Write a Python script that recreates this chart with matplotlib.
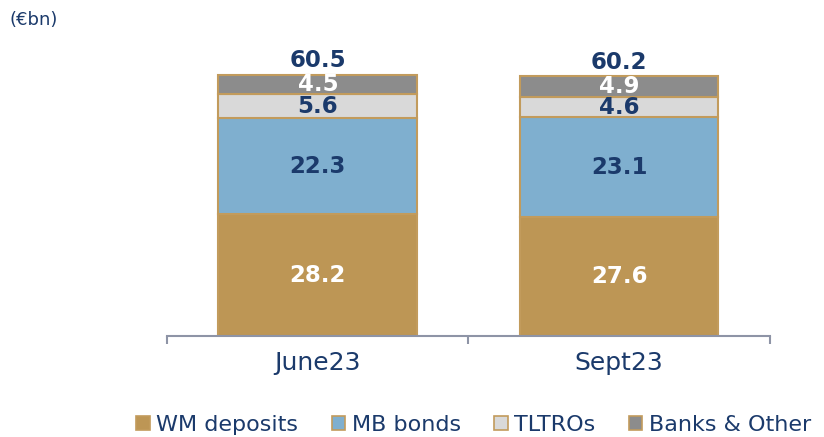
import numpy as np
import matplotlib.pyplot as plt
from matplotlib.patches import Patch

periods = ['June23', 'Sept23']
series = ['WM deposits', 'MB bonds', 'TLTROs', 'Banks & Other']
wm_deposits = [28.2, 27.6]
mb_bonds = [22.3, 23.1]
tltros = [5.6, 4.6]
banks_other = [4.5, 4.9]
totals = [60.5, 60.2]

colors = ['#BD9655', '#7FAFCF', '#D9D9D9', '#8C8C8C']
label_colors = ['white', '#1B3A6B', '#1B3A6B', 'white']
edge = '#C29B5C'
navy = '#1B3A6B'

fig = plt.figure(figsize=(8.24, 4.37), dpi=100)
ax = fig.add_axes([0.203, 0.231, 0.731, 0.691])

x = np.arange(len(periods))
bottom = np.zeros(len(periods))
for vals, c, lc in zip([wm_deposits, mb_bonds, tltros, banks_other], colors, label_colors):
    ax.bar(x, vals, 0.66, bottom=bottom, color=c, edgecolor=edge, linewidth=1.5)
    for xi, b, v in zip(x, bottom, vals):
        ax.text(xi, b + v / 2, f'{v:.1f}', ha='center', va='center',
                color=lc, fontsize=16.5, fontweight='bold')
    bottom += np.array(vals)

for xi, t, b in zip(x, totals, bottom):
    ax.text(xi, b + 0.6, f'{t:.1f}', ha='center', va='bottom',
            color=navy, fontsize=16.5, fontweight='bold')

ax.set_xlim(-0.5, 1.5)
ax.set_ylim(0, 70)
for s in ['top', 'right', 'left']:
    ax.spines[s].set_visible(False)
ax.spines['bottom'].set_color('#8E94A6')
ax.spines['bottom'].set_linewidth(1.5)
ax.set_yticks([])
ax.set_xticks(x)
ax.set_xticklabels(periods, fontsize=18, color=navy)
ax.tick_params(axis='x', which='major', length=0, pad=11)
ax.set_xticks([-0.5, 0.5, 1.5], minor=True)
ax.tick_params(axis='x', which='minor', length=6, width=1.5, color='#8E94A6', direction='out')

fig.text(0.012, 0.955, '(€bn)', fontsize=13, color=navy, ha='left', va='center')

handles = [Patch(facecolor=c, edgecolor=edge, linewidth=1.2) for c in colors]
fig.legend(handles, series, loc='center', bbox_to_anchor=(0.575, 0.027), ncol=4,
           frameon=False, fontsize=16, handlelength=0.6, handleheight=0.6,
           handletextpad=0.3, columnspacing=1.5, labelcolor=navy)

fig.savefig('out.png', dpi=100)
